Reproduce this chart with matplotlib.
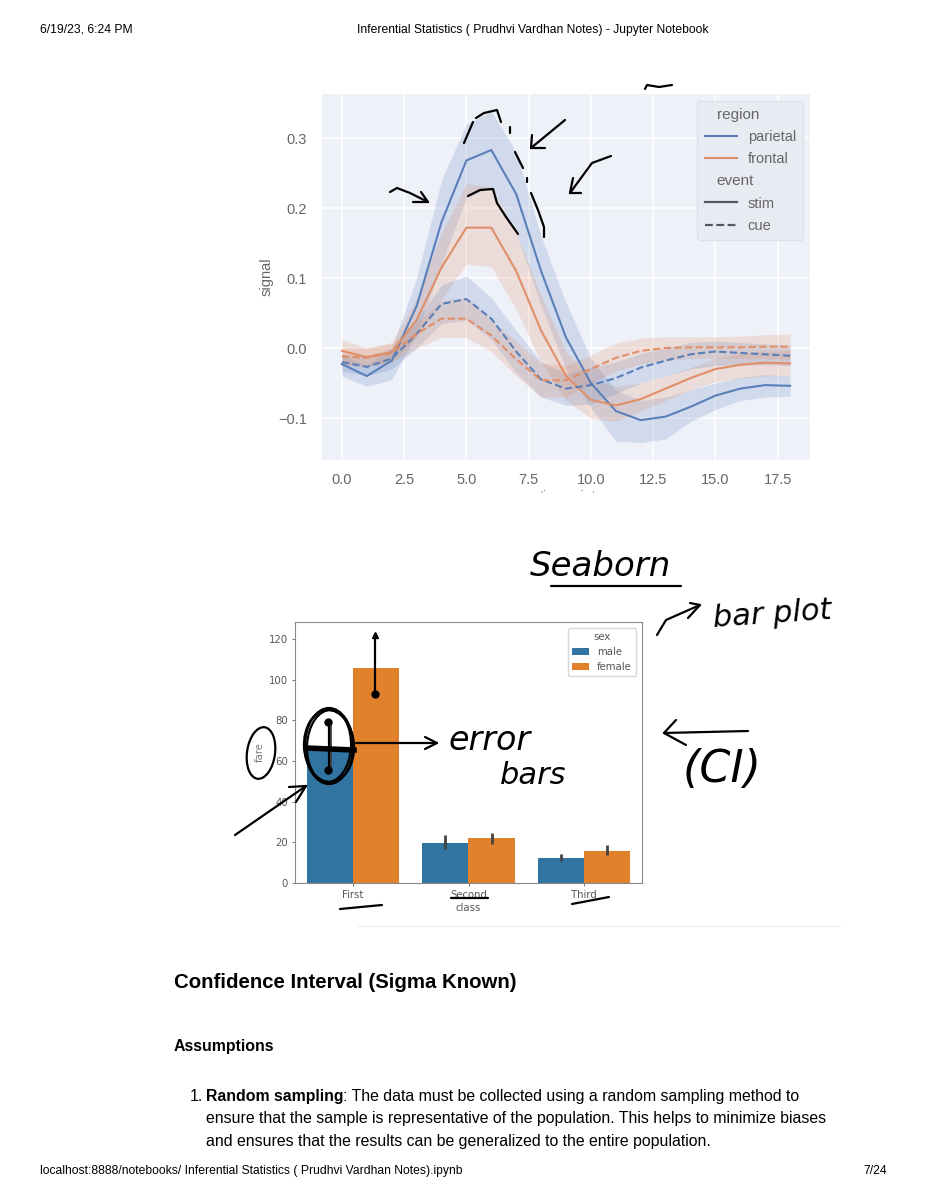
import matplotlib
matplotlib.use("Agg")
import numpy as np
import matplotlib.pyplot as plt
from matplotlib.patches import Ellipse, Rectangle

plt.rcParams['font.family'] = ['Liberation Sans', 'DejaVu Sans']

W, H = 927, 1200

# line chart: signal by timepoint
timepoint = np.arange(0, 19)
par_stim = [-0.023, -0.04, -0.018, 0.06, 0.18, 0.268, 0.283, 0.22, 0.11, 0.015, -0.05, -0.09, -0.103, -0.098, -0.084, -0.068, -0.058, -0.053, -0.054]
par_stim_lo = [-0.04, -0.055, -0.045, 0.02, 0.12, 0.215, 0.23, 0.165, 0.06, -0.03, -0.085, -0.133, -0.135, -0.13, -0.105, -0.088, -0.075, -0.07, -0.069]
par_stim_hi = [-0.01, -0.025, 0.0, 0.1, 0.24, 0.32, 0.338, 0.28, 0.16, 0.065, -0.015, -0.06, -0.075, -0.07, -0.06, -0.05, -0.042, -0.038, -0.04]
fro_stim = [-0.004, -0.013, -0.006, 0.04, 0.115, 0.172, 0.172, 0.11, 0.025, -0.04, -0.074, -0.082, -0.073, -0.058, -0.043, -0.03, -0.024, -0.021, -0.022]
fro_stim_lo = [-0.022, -0.025, -0.02, 0.015, 0.07, 0.12, 0.116, 0.055, -0.02, -0.075, -0.1, -0.105, -0.09, -0.075, -0.06, -0.048, -0.043, -0.04, -0.04]
fro_stim_hi = [0.012, 0.0, 0.008, 0.07, 0.165, 0.235, 0.23, 0.165, 0.075, -0.005, -0.045, -0.055, -0.05, -0.04, -0.028, -0.015, -0.008, -0.004, -0.004]
par_cue = [-0.02, -0.027, -0.015, 0.02, 0.063, 0.07, 0.042, -0.005, -0.045, -0.058, -0.053, -0.043, -0.028, -0.018, -0.009, -0.005, -0.007, -0.009, -0.011]
par_cue_lo = [-0.033, -0.04, -0.03, 0.0, 0.035, 0.04, 0.012, -0.035, -0.07, -0.082, -0.08, -0.065, -0.05, -0.04, -0.03, -0.025, -0.024, -0.024, -0.025]
par_cue_hi = [-0.008, -0.012, 0.0, 0.04, 0.09, 0.103, 0.072, 0.025, -0.02, -0.036, -0.028, -0.02, -0.008, 0.0, 0.008, 0.01, 0.008, 0.006, 0.004]
fro_cue = [-0.012, -0.014, -0.007, 0.02, 0.042, 0.042, 0.018, -0.016, -0.046, -0.046, -0.03, -0.014, -0.004, 0.0, 0.001, 0.001, 0.001, 0.002, 0.002]
fro_cue_lo = [-0.025, -0.027, -0.02, 0.0, 0.015, 0.015, -0.005, -0.04, -0.07, -0.07, -0.05, -0.033, -0.023, -0.018, -0.015, -0.015, -0.015, -0.015, -0.016]
fro_cue_hi = [0.0, 0.0, 0.006, 0.035, 0.068, 0.072, 0.04, 0.01, -0.022, -0.025, -0.01, 0.007, 0.014, 0.016, 0.016, 0.016, 0.017, 0.019, 0.02]

# bar chart: fare by class and sex
classes = ['First', 'Second', 'Third']
male_fare = [66.0, 19.7, 12.3]
female_fare = [106.0, 22.0, 15.9]
male_lo = [55.0, 16.5, 11.0]
male_hi = [80.0, 23.5, 14.5]
female_lo = [106.0, 19.0, 14.0]
female_hi = [106.0, 24.8, 18.5]

# pen strokes drawn over the page, in page pixels
pen_strokes = [
    [(464, 143), (473, 122)], [(476, 118), (484, 113), (497, 110), (501, 122)],
    [(510, 127), (510, 133)], [(515, 152), (523, 168)], [(527, 178), (527, 182)],
    [(531, 193), (538, 210), (544, 227), (544, 237)],
    [(565, 120), (531, 148)], [(532, 135), (531, 148), (545, 148)],
    [(611, 156), (592, 163), (570, 193)], [(573, 178), (570, 193), (581, 193)],
    [(390, 192), (397, 188), (410, 193), (428, 202)], [(421, 192), (428, 202), (413, 202)],
    [(468, 196), (480, 190), (493, 189), (497, 203), (506, 217), (518, 234)],
    [(645, 89), (647, 85), (659, 87), (672, 85)],
    [(551, 586), (681, 586)],
    [(657, 635), (666, 620), (700, 605)], [(690, 603), (700, 605), (688, 618)],
    [(356, 743), (437, 743)], [(425, 737), (437, 743), (425, 749)],
    [(748, 731), (664, 733)], [(676, 720), (664, 733), (686, 745)],
    [(340, 909), (382, 905)], [(572, 904), (609, 897)],
    [(451, 898), (488, 898)],
    [(235, 835), (306, 786)], [(289, 787), (306, 786), (296, 802)],
    [(329, 722), (329, 770)], [(375, 635), (375, 695)],
]

body_lines = [
    'Random sampling',
    ': The data must be collected using a random sampling method to',
    'ensure that the sample is representative of the population. This helps to minimize biases',
    'and ensures that the results can be generalized to the entire population.',
]

blue = '#5b7fb8'
orange = '#e08f68'
fig = plt.figure(figsize=(W / 100, H / 100), dpi=100, facecolor='white')


def add_ax(left, top, right, bottom):
    return fig.add_axes([left / W, 1 - bottom / H, (right - left) / W, (bottom - top) / H])


# line chart
ax = add_ax(322, 94, 810, 460)
ax.set_facecolor('#eff1f9')
ax.grid(color='white', linewidth=1.1)
ax.set_axisbelow(True)
for s in ax.spines.values():
    s.set_visible(False)
ax.fill_between(timepoint, par_stim_lo, par_stim_hi, color=blue, alpha=0.2, lw=0)
ax.fill_between(timepoint, fro_stim_lo, fro_stim_hi, color=orange, alpha=0.22, lw=0)
ax.fill_between(timepoint, par_cue_lo, par_cue_hi, color=blue, alpha=0.2, lw=0)
ax.fill_between(timepoint, fro_cue_lo, fro_cue_hi, color=orange, alpha=0.22, lw=0)
ax.plot(timepoint, par_stim, color=blue, lw=1.5, label='parietal')
ax.plot(timepoint, fro_stim, color=orange, lw=1.5, label='frontal')
ax.plot(timepoint, par_cue, color=blue, lw=1.5, ls=(0, (3.5, 1.6)))
ax.plot(timepoint, fro_cue, color=orange, lw=1.5, ls=(0, (3.5, 1.6)))
ax.set_xlim(-0.8, 18.8)
ax.set_ylim(-0.16, 0.363)
ax.set_xticks([0, 2.5, 5, 7.5, 10, 12.5, 15, 17.5])
ax.set_yticks([-0.1, 0, 0.1, 0.2, 0.3])
ax.set_yticklabels(['\u22120.1', '0.0', '0.1', '0.2', '0.3'])
ax.tick_params(axis='x', length=0, labelsize=10.5, labelcolor='#666666', pad=9)
ax.tick_params(axis='y', length=0, labelsize=10.5, labelcolor='#666666', pad=11)
ax.set_ylabel('signal', fontsize=10.5, color='#666666', labelpad=3)

h_region = plt.Line2D([], [], lw=0, label='region')
h_event = plt.Line2D([], [], lw=0, label='event')
h_stim = plt.Line2D([], [], color='#555566', lw=1.6, label='stim')
h_cue = plt.Line2D([], [], color='#555566', lw=1.6, ls=(0, (3.5, 1.6)), label='cue')
h_par, h_fro = ax.get_legend_handles_labels()[0]
leg = ax.legend(handles=[h_region, h_par, h_fro, h_event, h_stim, h_cue], loc='upper right',
                fontsize=10.5, labelcolor='#666666', facecolor='#e9ebf3', edgecolor='#dfe1ea',
                framealpha=1, bbox_to_anchor=(0.986, 0.982), borderaxespad=0, labelspacing=0.56,
                handlelength=2.2, handletextpad=0.75, borderpad=0.5)
for t in (leg.get_texts()[0], leg.get_texts()[3]):
    t.set_position((-31, 0))
    t.set_fontsize(11)

# bar chart
ax2 = add_ax(295, 622, 642, 883)
bar_x = np.arange(len(classes))
bw = 0.4
ax2.bar(bar_x - bw / 2, male_fare, bw, color='#3274a1', label='male')
ax2.bar(bar_x + bw / 2, female_fare, bw, color='#e1812c', label='female')
ax2.vlines(bar_x - bw / 2, male_lo, male_hi, color='#424242', lw=2)
ax2.vlines(bar_x + bw / 2, female_lo, female_hi, color='#424242', lw=2)
ax2.set_xlim(-0.5, 2.5)
ax2.set_ylim(0, 128.4)
ax2.set_xticks(bar_x)
ax2.set_xticklabels(classes, family='DejaVu Sans')
ax2.set_yticks(np.arange(0, 121, 20))
ax2.set_yticklabels([str(v) for v in np.arange(0, 121, 20)], family='DejaVu Sans')
ax2.tick_params(labelsize=7.3, labelcolor='#555555', color='#777777', length=2.5, width=0.7, pad=2.5)
ax2.set_xlabel('class', fontsize=7.3, color='#555555', labelpad=2, family='DejaVu Sans')
ax2.set_ylabel('fare', fontsize=7.3, color='#777777', labelpad=3, family='DejaVu Sans')
for s in ax2.spines.values():
    s.set_color('#888888')
leg2 = ax2.legend(title='sex', loc='upper right', prop={'family': 'DejaVu Sans', 'size': 7.3},
                  labelcolor='#555555', borderaxespad=0.6, handlelength=1.7)
leg2.get_title().set_fontfamily('DejaVu Sans')
leg2.get_title().set_fontsize(7.3)
leg2.get_title().set_color('#555555')

# page layer in pixel coordinates: text, pen notes
page = fig.add_axes([0, 0, 1, 1])
page.set_xlim(0, W)
page.set_ylim(H, 0)
page.axis('off')
page.patch.set_alpha(0)

page.text(342 + 226, 497, 'timepoint', fontsize=10, color='#777777', ha='center', va='center', zorder=1)
page.add_patch(Rectangle((300, 493), 560, 14, color='white', zorder=2))
page.plot([358, 840], [926, 926], color='#f1f1f1', lw=1, zorder=2)

for stroke in pen_strokes:
    xs, ys = zip(*stroke)
    page.plot(xs, ys, color='black', lw=1.6, solid_capstyle='round', solid_joinstyle='round', zorder=5)
page.plot([306, 354], [748, 750], color='black', lw=4, zorder=5)
page.plot([328, 328, 375], [722, 770, 694], 'o', color='black', ms=5, zorder=5)
page.plot([375], [635], '^', color='black', ms=5, zorder=5)
for dw, dh, ang in [(48, 76, 0), (44, 72, 3), (50, 72, -3)]:
    page.add_patch(Ellipse((329, 746), dw, dh, angle=ang, fill=False, ec='black', lw=1.6, zorder=5))
page.add_patch(Ellipse((261, 753), 28, 52, angle=8, fill=False, ec='black', lw=1.6, zorder=5))

pen = dict(style='italic', color='black', family='DejaVu Sans', va='center', zorder=5)
page.text(530, 567, 'Seaborn', fontsize=24.5, **pen)
page.text(712, 614, 'bar plot', fontsize=22, rotation=4, **pen)
page.text(448, 741, 'error', fontsize=24, **pen)
page.text(500, 775, 'bars', fontsize=22, **pen)
page.text(683, 770, '(CI)', fontsize=32, **pen)

# page text
page.text(40, 33, '6/19/23, 6:24 PM', fontsize=8.7)
page.text(533, 33, 'Inferential Statistics ( Prudhvi Vardhan Notes) - Jupyter Notebook', fontsize=8.7, ha='center')
page.text(174, 988, 'Confidence Interval (Sigma Known)', fontsize=14.65, fontweight='bold')
page.text(174, 1051, 'Assumptions', fontsize=11.4, fontweight='bold')
page.text(190, 1101, '1.', fontsize=11.4)
page.text(206, 1101, body_lines[0], fontsize=11.4, fontweight='bold')
page.text(343, 1101, body_lines[1], fontsize=11.4)
page.text(206, 1123, body_lines[2], fontsize=11.4)
page.text(206, 1146, body_lines[3], fontsize=11.4)
page.text(40, 1174, 'localhost:8888/notebooks/ Inferential Statistics ( Prudhvi Vardhan Notes).ipynb', fontsize=8.7)
page.text(887, 1174, '7/24', fontsize=8.7, ha='right')

fig.savefig('out.png', dpi=100)
